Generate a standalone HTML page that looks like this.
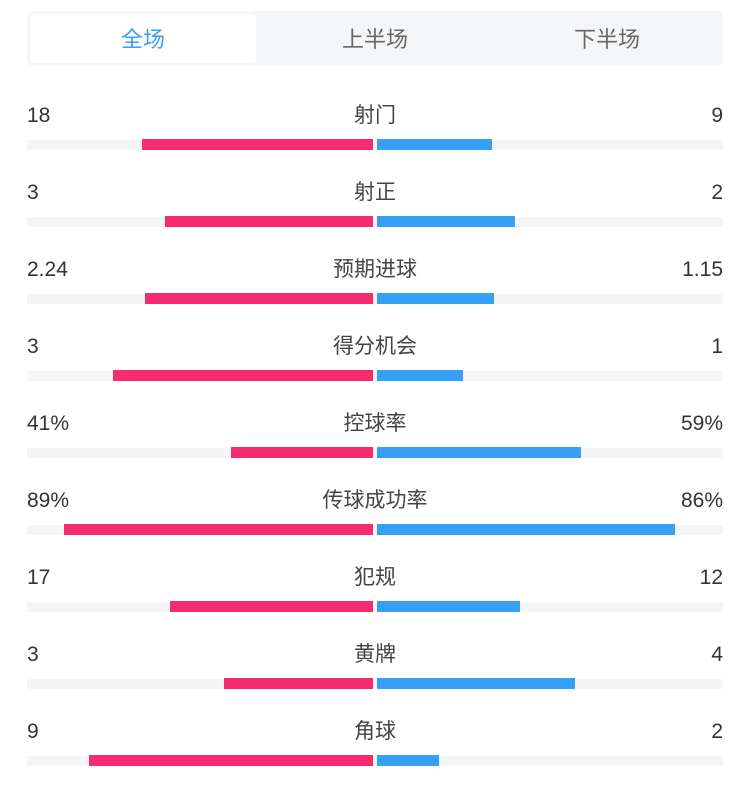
<!DOCTYPE html>
<html><head><meta charset="utf-8"><style>
body{margin:0;width:750px;height:789px;background:#fff;position:relative;overflow:hidden;font-family:"Liberation Sans","Noto Sans CJK SC",sans-serif;color:#333}
.tabs{position:absolute;left:27px;top:11px;width:696px;height:55px;background:#f5f6f8;border-radius:6px}
.tab{position:absolute;top:3px;height:49px;line-height:52px;font-size:22px;text-align:center;color:#666;width:226px}
.act{background:#fff;color:#3a9ef0;border-radius:4px}
.l,.c,.r{position:absolute;font-size:21px;line-height:24px}
.l{left:27px}.r{right:27px}.c{left:0;width:750px;text-align:center;color:#444}
.t{position:absolute;left:27px;width:696px;height:10px;background:#f3f5f7}
.p{position:absolute;height:11px;background:#f72c6f}
.b{position:absolute;height:11px;background:#35a0f6}
</style></head><body>
<div class="tabs">
<div class="tab act" style="left:3px">全场</div>
<div class="tab" style="left:235px">上半场</div>
<div class="tab" style="left:467px">下半场</div>
</div>
<div id="rows"></div>
<script>
var d=[["18","射门","9",142,492],["3","射正","2",165,515],["2.24","预期进球","1.15",145,494],["3","得分机会","1",113,463],["41%","控球率","59%",231,581],["89%","传球成功率","86%",64,675],["17","犯规","12",170,520],["3","黄牌","4",224,575],["9","角球","2",89,439]];
var h="";d.forEach(function(r,i){var y=104+77*i,by=139+77*i;
h+='<div class="l" style="top:'+y+'px">'+r[0]+'</div><div class="c" style="top:'+y+'px">'+r[1]+'</div><div class="r" style="top:'+y+'px">'+r[2]+'</div>';
h+='<div class="t" style="top:'+(by+1)+'px"></div><div class="p" style="top:'+by+'px;left:'+r[3]+'px;width:'+(373-r[3])+'px"></div><div class="b" style="top:'+by+'px;left:377px;width:'+(r[4]-377)+'px"></div>';});
document.getElementById("rows").innerHTML=h;
</script>
</body></html>
